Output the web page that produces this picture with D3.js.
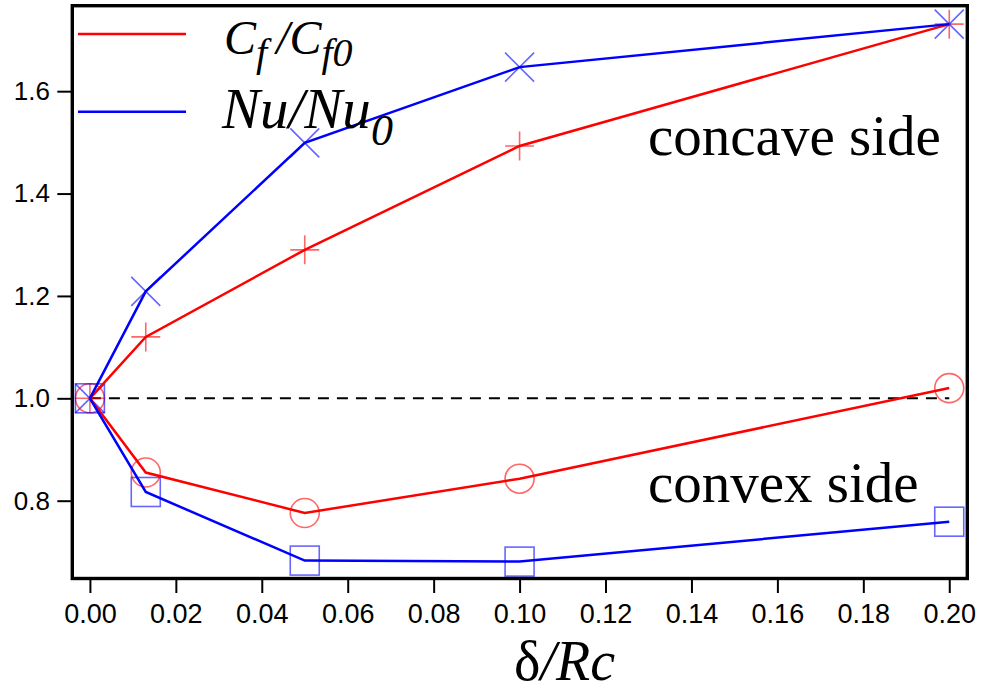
<!DOCTYPE html>
<html lang="en">
  <head>
    <meta charset="utf-8">
    <title>Cf and Nu ratio vs curvature</title>
    <script src="https://cdn.jsdelivr.net/npm/d3@7"></script>
    <style>
      body { margin: 0; background: #fff; }
      .tick text { font-family: "Liberation Sans", Arial, Helvetica, sans-serif; }
    </style>
  </head>
  <body>
    <div id="chart"></div>
    <script>
      // delta / Rc values
      const delta = [0, 0.013, 0.05, 0.1, 0.2];
      // concave side
      const cfConcave = [1.0, 1.120, 1.290, 1.493, 1.731];
      const nuConcave = [1.0, 1.209, 1.499, 1.647, 1.731];
      // convex side
      const cfConvex = [1.0, 0.855, 0.776, 0.843, 1.020];
      const nuConvex = [1.0, 0.817, 0.683, 0.681, 0.759];

      const xTicks = [0, 0.02, 0.04, 0.06, 0.08, 0.10, 0.12, 0.14, 0.16, 0.18, 0.20];
      const yTicks = [0.8, 1.0, 1.2, 1.4, 1.6];

      const svgWidth = 981, svgHeight = 691;
      const margin = { top: 5.7, right: 13.7, bottom: 112.5, left: 72.3 },
            width = svgWidth - margin.left - margin.right,
            height = svgHeight - margin.top - margin.bottom;

      const svg = d3.select("#chart")
          .append("svg")
          .attr("width", svgWidth)
          .attr("height", svgHeight);

      const g = svg.append("g")
          .attr("transform", `translate(${margin.left}, ${margin.top})`);

      const x = d3.scaleLinear().domain([-0.0041, 0.2042]).range([0, width]);
      const y = d3.scaleLinear().domain([0.648, 1.767]).range([height, 0]);

      const RED = "#ff0000", BLUE = "#0000ff";

      // axes
      const xAxis = g.append("g")
          .attr("transform", `translate(0, ${height})`)
          .call(d3.axisBottom(x).tickValues(xTicks).tickFormat(d3.format(".2f"))
                .tickSize(14.5).tickPadding(10.8));
      xAxis.select(".domain").remove();
      xAxis.selectAll("line").attr("stroke-width", 2);
      xAxis.selectAll("text").attr("font-size", 27).attr("fill", "#000");

      const yAxis = g.append("g")
          .call(d3.axisLeft(y).tickValues(yTicks).tickFormat(d3.format(".1f"))
                .tickSize(15).tickPadding(7.3));
      yAxis.select(".domain").remove();
      yAxis.selectAll("line").attr("stroke-width", 2);
      yAxis.selectAll("text").attr("font-size", 26).attr("fill", "#000");

      // reference line at 1
      g.append("line")
          .attr("x1", x(0)).attr("x2", x(0.2))
          .attr("y1", y(1)).attr("y2", y(1))
          .attr("stroke", "#000")
          .attr("stroke-width", 2)
          .attr("stroke-dasharray", "11,8");

      const line = d3.line()
          .x(d => x(d[0]))
          .y(d => y(d[1]));

      const series = [
        { values: cfConcave, color: RED, marker: "plus" },
        { values: nuConcave, color: BLUE, marker: "cross" },
        { values: cfConvex, color: RED, marker: "circle" },
        { values: nuConvex, color: BLUE, marker: "square" }
      ];

      const s = 14.5;  // marker half size
      function drawMarker(sel, type, color) {
        sel.attr("fill", "none")
           .attr("stroke", color)
           .attr("stroke-width", 1.6)
           .attr("stroke-opacity", 0.6);
        if (type === "circle") {
          sel.append("circle").attr("r", s);
        } else if (type === "square") {
          sel.append("rect").attr("x", -s).attr("y", -s)
             .attr("width", 2 * s).attr("height", 2 * s);
        } else if (type === "plus") {
          sel.append("path").attr("d", `M${-s},0H${s}M0,${-s}V${s}`);
        } else {
          sel.append("path").attr("d", `M${-s},${-s}L${s},${s}M${-s},${s}L${s},${-s}`);
        }
      }

      series.forEach(sr => {
        const pts = delta.map((d, i) => [d, sr.values[i]]);
        pts.forEach(p => {
          const m = g.append("g")
              .attr("transform", `translate(${x(p[0])}, ${y(p[1])})`);
          drawMarker(m, sr.marker, sr.color);
        });
      });

      series.forEach(sr => {
        const pts = delta.map((d, i) => [d, sr.values[i]]);
        g.append("path")
            .datum(pts)
            .attr("fill", "none")
            .attr("stroke", sr.color)
            .attr("stroke-width", 2.5)
            .attr("d", line);
      });

      // frame
      g.append("rect")
          .attr("width", width)
          .attr("height", height)
          .attr("fill", "none")
          .attr("stroke", "#000")
          .attr("stroke-width", 3.4);

      // legend
      const serif = '"Liberation Serif", "Times New Roman", Times, serif';
      const legend = g.append("g").attr("transform", `translate(${-margin.left}, ${-margin.top})`);
      legend.append("line").attr("x1", 78).attr("x2", 186).attr("y1", 34).attr("y2", 34)
          .attr("stroke", RED).attr("stroke-width", 2.5);
      legend.append("line").attr("x1", 78).attr("x2", 186).attr("y1", 111.7).attr("y2", 111.7)
          .attr("stroke", BLUE).attr("stroke-width", 2.5);

      const cf = legend.append("text")
          .attr("x", 224).attr("y", 54)
          .attr("font-family", serif).attr("font-style", "italic").attr("font-size", 48);
      cf.append("tspan").text("C");
      cf.append("tspan").attr("font-size", 40).attr("dy", 12).text("f");
      cf.append("tspan").attr("dy", -12).attr("dx", 9).text("/");
      cf.append("tspan").text("C");
      cf.append("tspan").attr("font-size", 40).attr("dy", 12).text("f0");

      const nu = legend.append("text")
          .attr("x", 222).attr("y", 128)
          .attr("font-family", serif).attr("font-style", "italic").attr("font-size", 57);
      nu.append("tspan").text("Nu/Nu");
      nu.append("tspan").attr("font-size", 44).attr("dy", 17).text("0");

      // annotations
      legend.append("text").attr("x", 648).attr("y", 155)
          .attr("font-family", serif).attr("font-size", 57).text("concave side");
      legend.append("text").attr("x", 648).attr("y", 501.7)
          .attr("font-family", serif).attr("font-size", 57).text("convex side");

      // x axis title
      const xt = legend.append("text")
          .attr("x", 514).attr("y", 680)
          .attr("font-family", serif).attr("font-size", 56);
      xt.append("tspan").text("δ");
      xt.append("tspan").attr("font-style", "italic").text("/Rc");
    </script>
  </body>
</html>
